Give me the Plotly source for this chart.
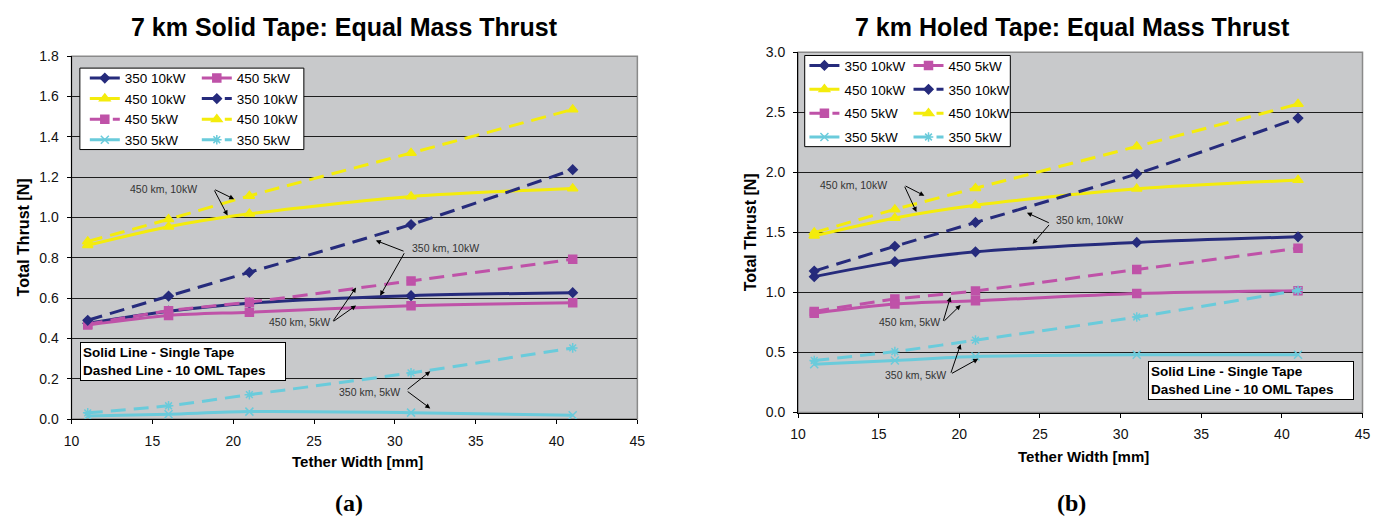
import plotly.graph_objects as go

W, H = 1389, 525

# ---------------- data ----------------
widths = [11, 16, 21, 31, 41]
x_ticks = [10, 15, 20, 25, 30, 35, 40, 45]

# (a) 7 km Solid Tape
a_350_10_single = [0.475, 0.535, 0.575, 0.612, 0.627]
a_450_10_single = [0.862, 0.954, 1.018, 1.104, 1.144]
a_450_5_single = [0.467, 0.514, 0.530, 0.562, 0.577]
a_350_5_single = [0.015, 0.024, 0.037, 0.032, 0.019]
a_350_10_oml = [0.490, 0.610, 0.728, 0.965, 1.237]
a_450_10_oml = [0.881, 0.991, 1.107, 1.320, 1.536]
a_450_5_oml = [0.470, 0.537, 0.580, 0.685, 0.793]
a_350_5_oml = [0.031, 0.066, 0.121, 0.229, 0.353]

# (b) 7 km Holed Tape
b_350_10_single = [1.132, 1.257, 1.339, 1.417, 1.464]
b_450_10_single = [1.472, 1.621, 1.727, 1.863, 1.936]
b_450_5_single = [0.828, 0.904, 0.931, 0.991, 1.015]
b_350_5_single = [0.402, 0.434, 0.467, 0.481, 0.481]
b_350_10_oml = [1.178, 1.385, 1.583, 1.988, 2.452]
b_450_10_oml = [1.499, 1.692, 1.868, 2.216, 2.569]
b_450_5_oml = [0.842, 0.945, 1.013, 1.192, 1.368]
b_350_5_oml = [0.434, 0.508, 0.603, 0.796, 1.018]

# ---------------- styles ----------------
NAVY = "#262B7C"
MAG = "#BF52A8"
YEL = "#F4EC0C"
CYAN = "#6ACBDB"
DASH = "15px,8px"

style = {
    "350 10kW": dict(color=NAVY, symbol="diamond", size=7),
    "450 10kW": dict(color=YEL, symbol="triangle-up", size=9),
    "450 5kW": dict(color=MAG, symbol="square", size=8),
    "350 5kW": dict(color=CYAN, symbol="x-thin", size=8),
}

fig = go.Figure()


def add(name, y, dashed, xa, ya, legend):
    st = style[name]
    sym = st["symbol"]
    if name == "350 5kW" and dashed:
        sym = "asterisk"
    fig.add_trace(go.Scatter(
        x=widths, y=y, name=name, mode="lines+markers",
        line=dict(color=st["color"], width=3, shape="spline", smoothing=0.8,
                  dash=DASH if dashed else "solid"),
        marker=dict(symbol=sym, size=st["size"], color=st["color"],
                    line=dict(color=st["color"], width=1.5)),
        xaxis=xa, yaxis=ya, legend=legend, legendgroup=legend + name + str(dashed),
        hoverinfo="x+y+name",
    ))


# left chart: legend columns (column-major like Excel)
add("350 10kW", a_350_10_single, False, "x", "y", "legend")
add("450 10kW", a_450_10_single, False, "x", "y", "legend")
add("450 5kW", a_450_5_oml, True, "x", "y", "legend")
add("350 5kW", a_350_5_single, False, "x", "y", "legend")
add("450 5kW", a_450_5_single, False, "x", "y", "legend2")
add("350 10kW", a_350_10_oml, True, "x", "y", "legend2")
add("450 10kW", a_450_10_oml, True, "x", "y", "legend2")
add("350 5kW", a_350_5_oml, True, "x", "y", "legend2")

# right chart
add("350 10kW", b_350_10_single, False, "x2", "y2", "legend3")
add("450 10kW", b_450_10_single, False, "x2", "y2", "legend3")
add("450 5kW", b_450_5_oml, True, "x2", "y2", "legend3")
add("350 5kW", b_350_5_single, False, "x2", "y2", "legend3")
add("450 5kW", b_450_5_single, False, "x2", "y2", "legend4")
add("350 10kW", b_350_10_oml, True, "x2", "y2", "legend4")
add("450 10kW", b_450_10_oml, True, "x2", "y2", "legend4")
add("350 5kW", b_350_5_oml, True, "x2", "y2", "legend4")


def px(v):
    return v / W


def py(v):
    return 1 - v / H


FONT = "Arial, Liberation Sans, sans-serif"
tickfont = dict(family=FONT, size=14, color="#111")

xcommon = dict(range=[10, 45], tickvals=x_ticks, showline=True, linecolor="black",
               linewidth=1, ticks="outside", ticklen=4, tickcolor="black",
               showgrid=False, zeroline=False, tickfont=tickfont,
               ticklabelstandoff=5, fixedrange=True)
ycommon = dict(showline=True, linecolor="black", linewidth=1, ticks="outside",
               ticklen=4, tickcolor="black", showgrid=True, gridcolor="#1e1e1e",
               gridwidth=1, zeroline=False, tickformat=".1f", tickfont=tickfont,
               ticklabelstandoff=5, fixedrange=True)

leg_common = dict(bgcolor="rgba(0,0,0,0)", borderwidth=0,
                  font=dict(family=FONT, size=13.5, color="black"),
                  xanchor="left", yanchor="top", xref="paper", yref="paper",
                  traceorder="grouped", itemclick=False, itemdoubleclick=False)

fig.update_layout(
    width=W, height=H,
    margin=dict(l=0, r=0, t=0, b=0),
    paper_bgcolor="white",
    plot_bgcolor="#C8C9CB",
    showlegend=True,
    xaxis=dict(domain=[px(64.3), px(636.7)], anchor="y", **xcommon),
    yaxis=dict(domain=[py(424), py(49.7)], anchor="x", range=[0, 1.8], dtick=0.2, **ycommon),
    xaxis2=dict(domain=[px(799.3), px(1370.3)], anchor="y2", **xcommon),
    yaxis2=dict(domain=[py(417.3), py(45.7)], anchor="x2", range=[0, 3.0], dtick=0.5, **ycommon),
    legend=dict(x=px(77.7), y=py(56.5), tracegroupgap=0, **leg_common),
    legend2=dict(x=px(191), y=py(56.5), tracegroupgap=0, **leg_common),
    legend3=dict(x=px(805.7), y=py(43.5), tracegroupgap=3.3, **leg_common),
    legend4=dict(x=px(911), y=py(43.5), tracegroupgap=3.3, **leg_common),
)

shapes = []
for xr, yr in (("x domain", "y domain"), ("x2 domain", "y2 domain")):
    shapes.append(dict(type="rect", xref=xr, yref=yr, x0=0, x1=1, y0=0, y1=1,
                       line=dict(color="#8a8a8a", width=1.5), fillcolor="rgba(0,0,0,0)",
                       layer="below"))
# legend boxes
for (x0, x1, y0, y1) in ((72.7, 299.3, 62, 146), (806, 1014, 49, 143)):
    shapes.append(dict(type="rect", xref="paper", yref="paper", x0=px(x0), x1=px(x1),
                       y0=py(y1), y1=py(y0), line=dict(color="black", width=1),
                       fillcolor="white", layer="above"))
fig.update_layout(shapes=shapes)

ann = []
# titles
for txt, xc in (("7 km Solid Tape: Equal Mass Thrust", 340.8),
                ("7 km Holed Tape: Equal Mass Thrust", 1077)):
    ann.append(dict(text=txt, x=px(xc), y=py(19.5), xref="paper", yref="paper",
                    xanchor="center", yanchor="middle", showarrow=False,
                    font=dict(family=FONT, size=25, color="black", weight="bold")))
# axis titles
for xc, yc in ((353.7, 468.2), (1088.4, 462.6)):
    ann.append(dict(text="Tether Width [mm]", x=px(xc), y=py(yc), xref="paper", yref="paper",
                    xanchor="center", yanchor="middle", showarrow=False,
                    font=dict(family=FONT, size=15, color="black", weight="bold")))
for xc, yc in ((15.8, 237), (751.5, 231.5)):
    ann.append(dict(text="Total Thrust [N]", x=px(xc), y=py(yc), xref="paper", yref="paper",
                    xanchor="center", yanchor="middle", showarrow=False, textangle=-90,
                    font=dict(family=FONT, size=16, color="black", weight="bold")))
# panel labels
for txt, xc in (("(a)", 344.7), ("(b)", 1075.9)):
    ann.append(dict(text=txt, x=px(xc), y=py(511), xref="paper", yref="paper",
                    xanchor="center", yanchor="middle", showarrow=False,
                    font=dict(family="Liberation Serif, Times New Roman, serif", size=24,
                              color="black", weight="bold")))
# note boxes
for (x0, y0) in ((73.3, 344), (1153.6, 364.5)):
    ann.append(dict(text="Solid Line - Single Tape<br>Dashed Line - 10 OML Tapes",
                    x=px(x0), y=py(y0), xref="paper", yref="paper",
                    xanchor="left", yanchor="top", showarrow=False, align="left",
                    width=200, bgcolor="white", bordercolor="black", borderwidth=1,
                    borderpad=2,
                    font=dict(family=FONT, size=13.5, color="black", weight="bold")))

# callouts: (text, text_x, text_y, tail_x, tail_y, [heads]) in data coords
callouts_a = [
    ("450 km, 10kW", 15.69, 1.141, 18.79, 1.141, [(20.06, 1.091), (19.65, 1.010)]),
    ("350 km, 10kW", 33.13, 0.851, 30.63, 0.830, [(28.82, 0.886), (29.09, 0.612)]),
    ("450 km, 5kW", 24.10, 0.480, 26.12, 0.480, [(27.60, 0.653), (27.60, 0.564)]),
    ("350 km, 5kW", 28.41, 0.134, 30.70, 0.142, [(32.19, 0.237), (32.19, 0.053)]),
]
callouts_b = [
    ("450 km, 10kW", 13.42, 1.893, 16.57, 1.893, [(17.83, 1.806), (17.34, 1.670)]),
    ("350 km, 10kW", 28.10, 1.607, 25.64, 1.575, [(24.19, 1.664), (24.54, 1.404)]),
    ("450 km, 5kW", 16.93, 0.758, 18.98, 0.752, [(19.45, 0.964), (20.08, 0.896)]),
    ("350 km, 5kW", 17.26, 0.312, 19.45, 0.320, [(20.08, 0.570), (21.17, 0.448)]),
]
for callouts, xr, yr in ((callouts_a, "x", "y"), (callouts_b, "x2", "y2")):
    for txt, tx, ty, ax, ay, heads in callouts:
        ann.append(dict(text=txt, x=tx, y=ty, xref=xr, yref=yr, showarrow=False,
                        xanchor="center", yanchor="middle",
                        font=dict(family=FONT, size=10.5, color="#333")))
        for hx, hy in heads:
            ann.append(dict(text="", x=hx, y=hy, xref=xr, yref=yr, ax=ax, ay=ay,
                            axref=xr, ayref=yr, showarrow=True, arrowhead=2,
                            arrowsize=1, arrowwidth=1, arrowcolor="black", standoff=0))
fig.update_layout(annotations=ann)

fig.write_html("out.html")
